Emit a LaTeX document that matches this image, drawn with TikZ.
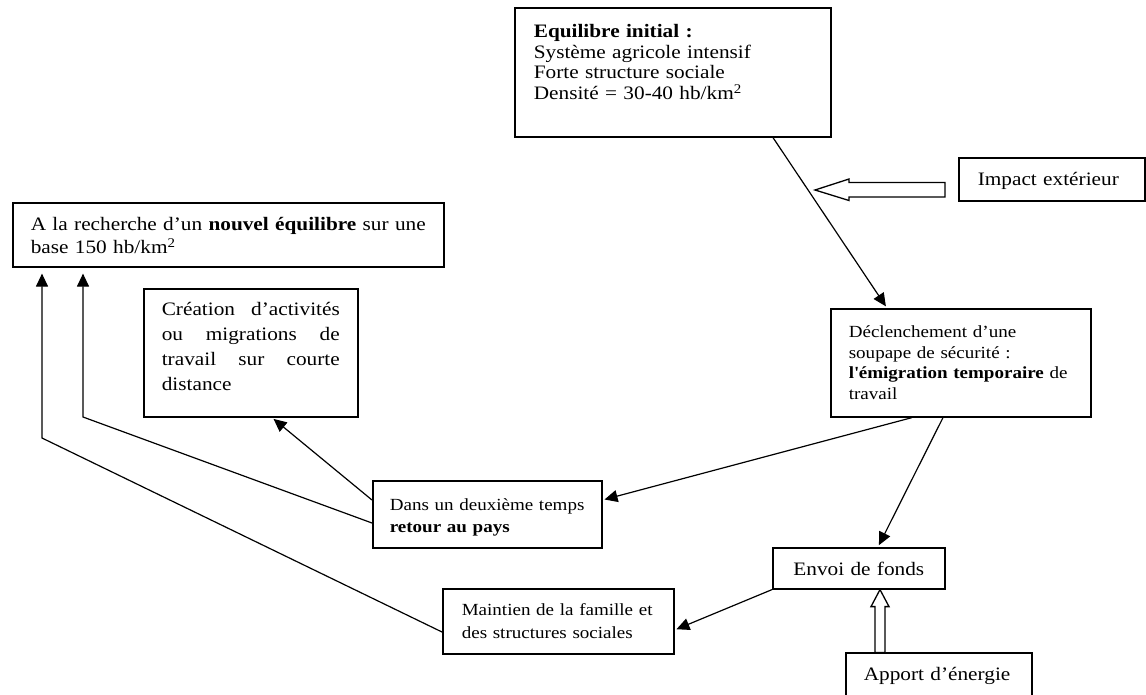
\documentclass[tikz,border=0pt]{standalone}
\usepackage{fontspec}
\setmainfont{Liberation Serif}[FakeStretch=1.12]
\usepackage{tikz}
\usetikzlibrary{arrows.meta}
\hyphenpenalty=10000

\newcommand{\bigtxt}{\fontsize{19}{20.5}\selectfont}
\newcommand{\smalltxt}{\fontsize{17}{20.5}\selectfont}

\begin{document}
\begin{tikzpicture}[
    x=1pt, y=-1pt, % pixel grid, y going down
    >={Triangle[length=13pt,width=12pt]}, % arrow head style
    line width=1.2pt % line style
  ]

  \tikzset{
    box/.style={draw=black, line width=1.6pt, anchor=north west, inner ysep=0pt, align=left},
    link/.style={->, shorten >=2pt},
    hollow/.style={draw=black, line width=1.3pt, fill=white, line join=miter}
  }

  \useasboundingbox (0,0) rectangle (1146,694);
  \clip (0,0) rectangle (1146,694);

\node[box, inner xsep=19pt, text width=278pt, text height=30pt, text depth=99pt, font=\bigtxt] (equil) at (514,7) {\textbf{Equilibre initial :}\\Système agricole intensif\\Forte structure sociale\\Densité = 30-40 hb/km\textsuperscript{2}};
\node[box, inner xsep=19pt, text width=148pt, text height=28pt, text depth=15pt, font=\bigtxt] (impact) at (958,157) {Impact extérieur};
\node[box, inner xsep=18pt, text width=395pt, text height=28pt, text depth=36pt, font=\fontsize{19}{23}\selectfont] (nouvel) at (12,202) {A la recherche d’un \textbf{nouvel équilibre} sur une\\base 150 hb/km\textsuperscript{2}};
\node[box, align=justify, inner xsep=18pt, text width=178pt, text height=27pt, text depth=101pt, font=\fontsize{19}{25}\selectfont] (creation) at (143,288) {Création d’activités ou migrations de travail sur courte distance};
\node[box, inner xsep=18pt, text width=224pt, text height=29pt, text depth=79pt, font=\smalltxt] (declench) at (830,308) {Déclenchement d’une\\soupape de sécurité :\\\textbf{l\textquotesingle émigration temporaire} de\\travail};
\node[box, inner xsep=17pt, text width=195pt, text height=30pt, text depth=37pt, font=\fontsize{17}{22}\selectfont] (dans) at (372,480) {Dans un deuxième temps\\\textbf{retour au pays}};
\node[box, align=center, inner xsep=20pt, text width=132pt, text height=28pt, text depth=13pt, font=\bigtxt] (envoi) at (772,547) {Envoi de fonds};
\node[box, inner xsep=19pt, text width=193pt, text height=27pt, text depth=38pt, font=\fontsize{17}{23}\selectfont] (maintien) at (442,588) {Maintien de la famille et\\des structures sociales};
\node[box, inner xsep=18pt, text width=150pt, text height=28pt, text depth=25pt, font=\bigtxt] (apport) at (845,652) {Apport d’énergie};

\coordinate (kneeA) at (42,438);
\coordinate (kneeB) at (83,417);
\coordinate (hit) at (815,190);

 \draw[link] ([xshift=259pt]equil.south west) -- ([xshift=57pt]declench.north west);
 \draw[link] ([xshift=82pt]declench.south west) -- ([yshift=-20pt]dans.north east);
 \draw[link] ([xshift=113pt]declench.south west) -- ([xshift=106pt]envoi.north west);
 \draw[link] (envoi.south west) -- ([yshift=-42pt]maintien.north east);
 \draw[link] ([yshift=-20pt]dans.north west) -- ([xshift=129pt]creation.south west);
 \draw[link, shorten >=6pt] ([yshift=-43pt]dans.north west) -- (kneeB) -- (kneeB |- nouvel.south);
 \draw[link, shorten >=6pt] ([yshift=-44pt]maintien.north west) -- (kneeA) -- (kneeA |- nouvel.south);

 % hollow arrows
 \draw[hollow] (hit) -- ++(34,-11) -- ++(0,3.5) -- ++(96,0) -- ++(0,14.5) -- ++(-96,0) -- ++(0,3.5) -- cycle;
 \draw[hollow] ([xshift=108pt]envoi.south west) -- ++(9,17) -- ++(-4,0) -- ++(0,46) -- ++(-10,0) -- ++(0,-46) -- ++(-4,0) -- cycle;
\end{tikzpicture}
\end{document}
